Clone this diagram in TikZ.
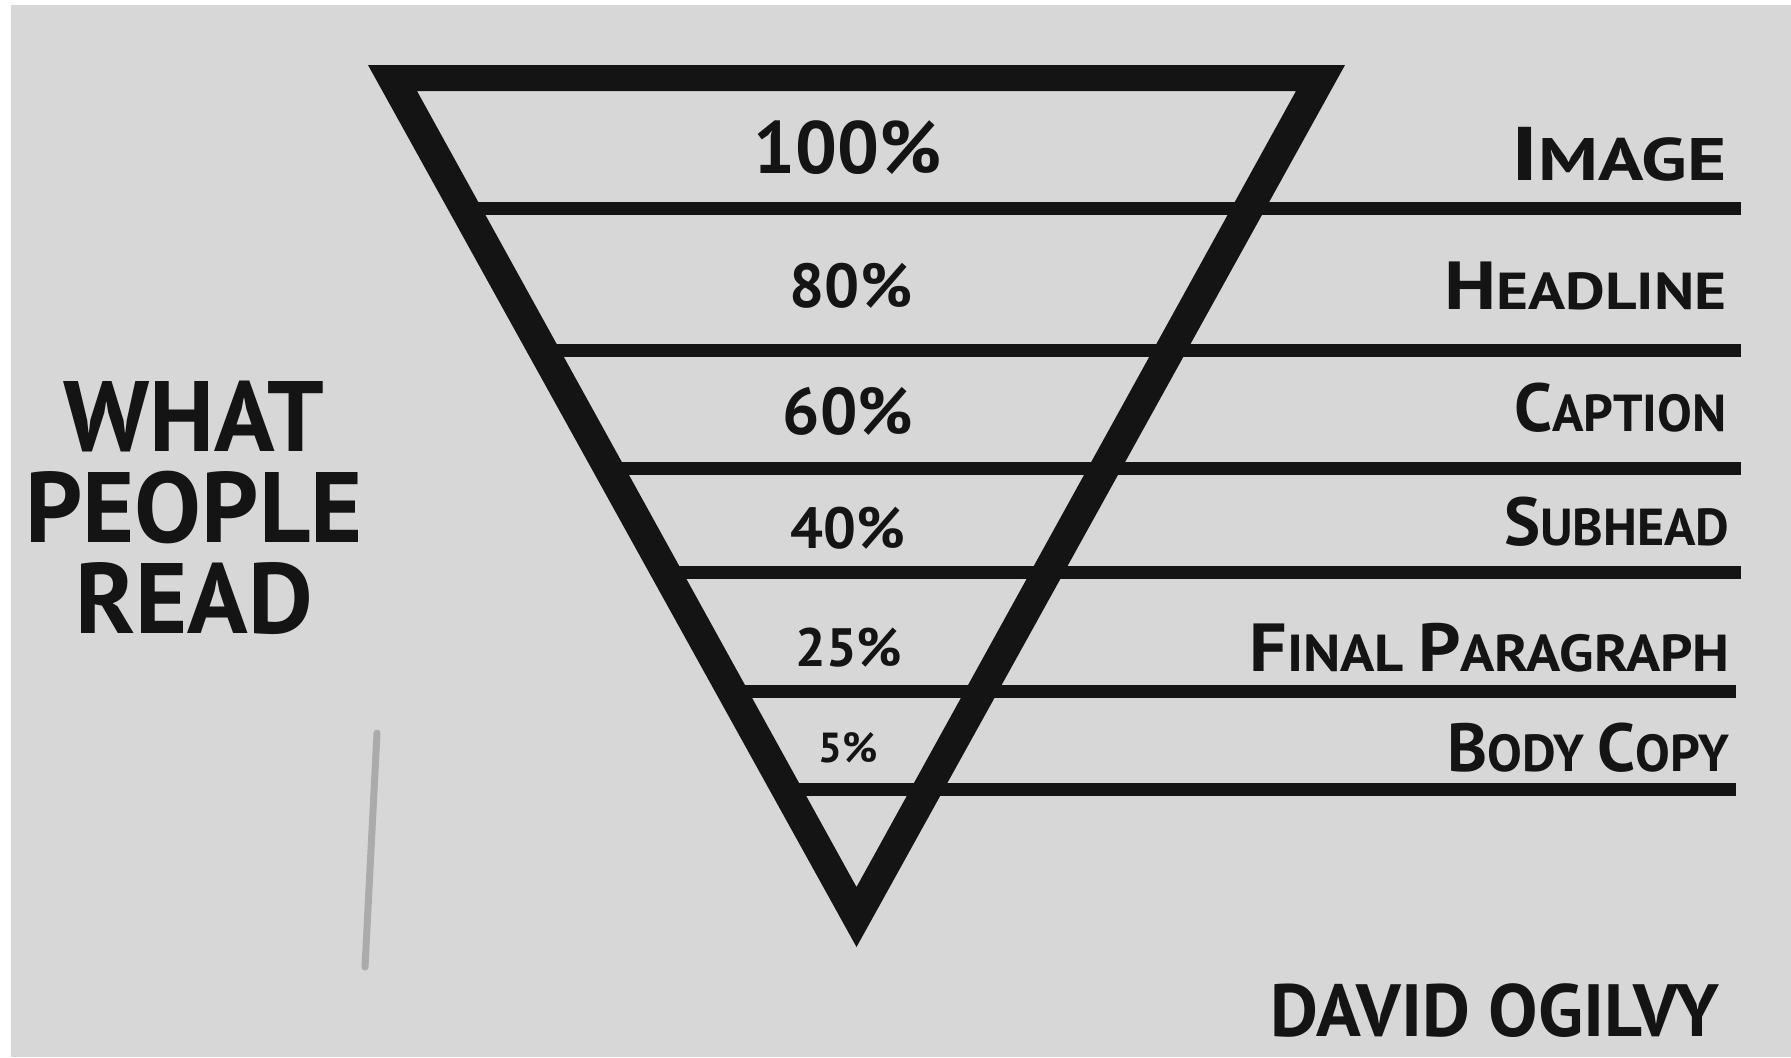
\documentclass[tikz,border=0pt]{standalone}
\usepackage{graphicx}
\usepackage{fontspec}
\setmainfont{PT Sans}
\definecolor{bg}{HTML}{D7D7D7}
\definecolor{ink}{HTML}{141414}
\definecolor{scratch}{HTML}{ABABAB}
\newcommand\smc{\fontsize{26}{26}\selectfont}
\newcommand\bgc{\fontsize{34}{34}\selectfont}
\begin{document}
\begin{tikzpicture}[x=0.5pt,y=-0.5pt,
  bar/.style={draw=ink,line width=6.5pt},
  pct/.style={font=\bfseries\fontsize{#1}{#1}\selectfont,text=ink,anchor=center,inner sep=0pt},
  lbl/.style={font=\bfseries\fontsize{34}{34}\selectfont,text=ink,anchor=east,inner sep=0pt},
  title/.style={font=\bfseries\fontsize{50}{45.5}\selectfont,text=ink,align=center,inner sep=0pt},
]
\fill[white] (0,0) rectangle (1791,1057);
\fill[bg] (11,5) rectangle (1791,1057);
\path[use as bounding box] (0,0) rectangle (1791,1057);

% faint scratch
\draw[scratch,line width=3.5pt,line cap=round] (377,733) -- (365,967);

% funnel triangle
\coordinate (TL) at (368,65);
\coordinate (TR) at (1345,65);
\coordinate (AP) at (856.5,947);
\coordinate (iTL) at (417,91);
\coordinate (iTR) at (1296,91);
\coordinate (iAP) at (856.5,887);
\fill[ink,even odd rule] (TL)--(TR)--(AP)--cycle (iTL)--(iTR)--(iAP)--cycle;

% horizontal dividers
\coordinate (l1a) at (462,208); \coordinate (l1b) at (1741,208);
\coordinate (l2a) at (543,350); \coordinate (l2b) at (1741,350);
\coordinate (l3a) at (608,468); \coordinate (l3b) at (1741,468);
\coordinate (l4a) at (666,572); \coordinate (l4b) at (1741,572);
\coordinate (l5a) at (731,691); \coordinate (l5b) at (1736,691);
\coordinate (l6a) at (786,789); \coordinate (l6b) at (1736,789);
\foreach \i in {1,...,6}{\draw[bar] (l\i a) -- (l\i b);}

% percentages
\node[pct=37] (p100) at (848,148) {100\%};
\node[pct=31] (p80) at (851,286) {80\%};
\node[pct=33] (p60) at (848,411) {60\%};
\node[pct=29] (p40) at (848,528) {40\%};
\node[pct=27] (p25) at (849,648) {25\%};
\node[pct=21] (p5) at (848,748) {5\%};

% labels
\node[lbl] (limage) at (1727,154) {\scalebox{1.25}[1]{\fontsize{38}{38}\selectfont I\fontsize{30}{30}\selectfont MAGE}};
\node[lbl] (lhead) at (1727,286) {\scalebox{1.18}[1]{H\smc EADLINE}};
\node[lbl] (lcap) at (1727,408) {C\smc APTION};
\node[lbl] (lsub) at (1730,522) {S\smc UBHEAD};
\node[lbl] (lfin) at (1730,648) {\scalebox{1.09}[1]{F\smc INAL \bgc P\smc ARAGRAPH}};
\node[lbl] (lbody) at (1730,748) {B\smc ODY \bgc C\smc OPY};

% left title
\node[title] (what) at (194,508) {WHAT\\PEOPLE\\READ};

% author
\node[pct=37] (author) at (1495,1011) {DAVID OGILVY};
\end{tikzpicture}
\end{document}
